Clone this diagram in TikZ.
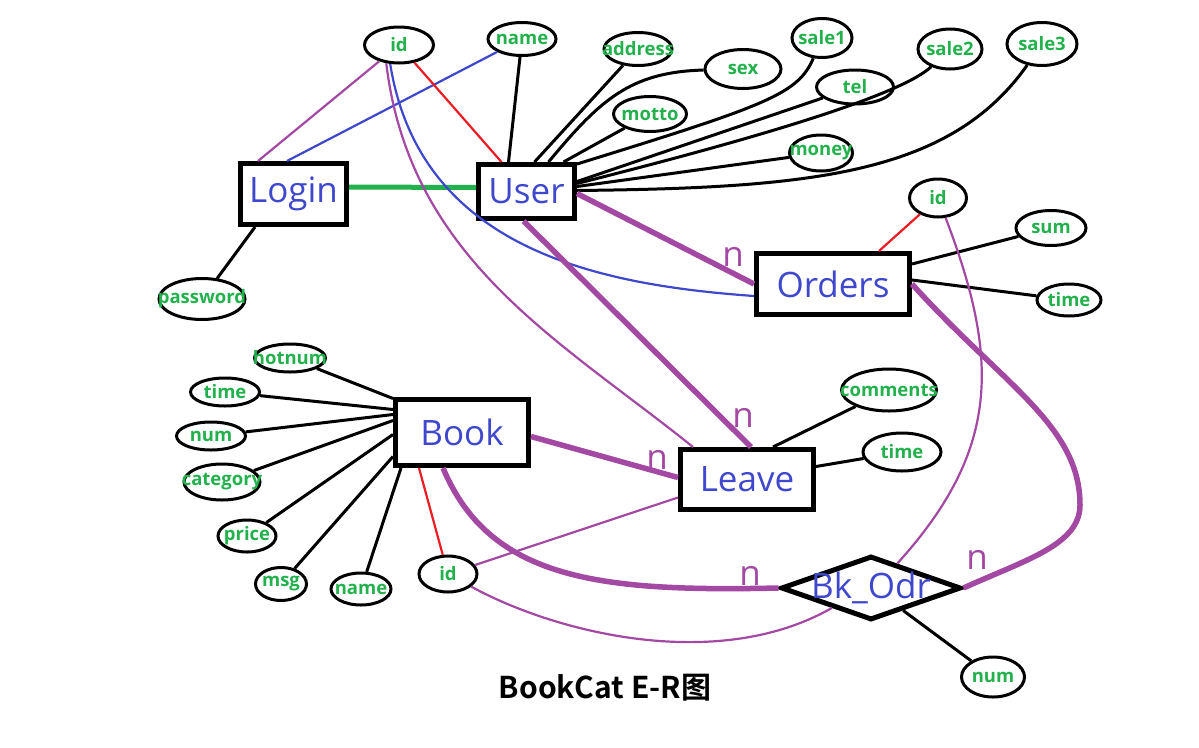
\documentclass[tikz,border=0pt]{standalone}
\usepackage{fontspec}
\usepackage{tikz}
\usetikzlibrary{shapes.geometric}
\newfontfamily\opensans{Open Sans}
\newfontfamily\cjkbold{Noto Sans CJK SC Bold}
\newcommand{\entfont}{\opensans\fontsize{35pt}{40pt}\selectfont}
\newcommand{\attrfont}{\opensans\bfseries\fontsize{18.5pt}{22pt}\selectfont}
\newcommand{\titlefont}{\cjkbold\fontsize{30pt}{34pt}\selectfont}
\definecolor{erblue}{HTML}{3F48CC}
\definecolor{ergreen}{HTML}{22B14C}
\definecolor{erpurple}{HTML}{A349A4}
\definecolor{erred}{HTML}{ED1C24}
\tikzstyle{entity} = [draw, line width=5pt, inner sep=0pt, text=erblue, font=\entfont]
\tikzstyle{attr} = [draw, ellipse, line width=3pt, inner xsep=-60pt, inner ysep=0pt, text=ergreen, font=\attrfont]
\tikzstyle{rel} = [draw, diamond, line width=5pt, inner sep=-60pt, text=erblue, font=\entfont]
\tikzstyle{card} = [text=erpurple, font=\entfont, inner sep=0pt]
\tikzstyle{attrline} = [line width=3pt]
\tikzstyle{keyline} = [line width=2.2pt]
\tikzstyle{relline} = [line width=5.5pt, erpurple]

\begin{document}
\begin{tikzpicture}[x=1pt, y=-1pt]
	\useasboundingbox (0,0) rectangle (1199,747);
	\fill[white] (0,0) rectangle (1199,747);

	\node[entity, minimum width=106pt, minimum height=61pt](login) at (293.5,194){Login};
	\node[entity, minimum width=96pt, minimum height=54pt](user) at (526.5,191.5){User};
	\node[entity, minimum width=153pt, minimum height=61pt](orders) at (833,284){Orders};
	\node[entity, minimum width=133pt, minimum height=66pt](book) at (462,432.5){Book};
	\node[entity, minimum width=133pt, minimum height=60pt](leave) at (747,479.5){Leave};
	\node[rel, minimum width=180pt, minimum height=64pt](bkodr) at (871,588){Bk\_Odr};

	\node[attr, minimum width=69pt, minimum height=36pt](uid) at (399,45){id};
	\node[attr, minimum width=68pt, minimum height=33pt](uname) at (522,39){name};
	\node[attr, minimum width=86pt, minimum height=41pt](pwd) at (202,299){password};
	\node[attr, minimum width=68pt, minimum height=33pt](address) at (638,49){address};
	\node[attr, minimum width=76pt, minimum height=39pt](sex) at (743,69){sex};
	\node[attr, minimum width=60pt, minimum height=39pt](sale1) at (822,38){sale1};
	\node[attr, minimum width=77pt, minimum height=34pt](tel) at (855,87){tel};
	\node[attr, minimum width=73pt, minimum height=35pt](motto) at (650,114){motto};
	\node[attr, minimum width=63pt, minimum height=36pt](money) at (821,153){money};
	\node[attr, minimum width=64pt, minimum height=40pt](sale2) at (950,49){sale2};
	\node[attr, minimum width=70pt, minimum height=43pt](sale3) at (1042,44){sale3};
	\node[attr, minimum width=57pt, minimum height=38pt](oid) at (938,198){id};
	\node[attr, minimum width=70pt, minimum height=35pt](sum) at (1051,228){sum};
	\node[attr, minimum width=64pt, minimum height=32pt](otime) at (1069,300){time};
	\node[attr, minimum width=71pt, minimum height=28pt](hotnum) at (290,358){hotnum};
	\node[attr, minimum width=69pt, minimum height=28pt](btime) at (225,392){time};
	\node[attr, minimum width=69pt, minimum height=28pt](bnum) at (211,436){num};
	\node[attr, minimum width=76pt, minimum height=36pt](category) at (222,482){category};
	\node[attr, minimum width=58pt, minimum height=32pt](price) at (247,536){price};
	\node[attr, minimum width=51pt, minimum height=33pt](msg) at (281,584){msg};
	\node[attr, minimum width=60pt, minimum height=32pt](bname) at (361,589){name};
	\node[attr, minimum width=58pt, minimum height=36pt](bid) at (448,574){id};
	\node[attr, minimum width=95pt, minimum height=42pt](comments) at (889,390){comments};
	\node[attr, minimum width=78pt, minimum height=38pt](ltime) at (902,452){time};
	\node[attr, minimum width=63pt, minimum height=40pt](knum) at (993,677){num};

	\node[card](n1) at (733,257){n};
	\node[card](n2) at (743,418){n};
	\node[card](n3) at (657,460){n};
	\node[card](n4) at (750,576){n};
	\node[card](n5) at (977,560){n};

	\node[font=\titlefont](title) at (605,688){BookCat E-R图};

	\draw[attrline](pwd) -- ([shift={(17,0)}]login.south west);
	\draw[keyline, erpurple](uid) -- ([shift={(20,0)}]login.north west);
	\draw[keyline, erblue](uname) -- ([shift={(49,0)}]login.north west);
	\draw[line width=5pt, ergreen]([shift={(0,-7)}]login.east) -- ([shift={(0,-4)}]user.west);

	\draw[keyline, erred](uid) -- ([shift={(-25,0)}]user.north);
	\draw[attrline](uname) -- ([shift={(-18,0)}]user.north);
	\draw[attrline](address) -- ([shift={(8,0)}]user.north);
	\draw[attrline](sex) .. controls (630,72) and (600,100) .. ([shift={(22,0)}]user.north);
	\draw[attrline](motto) -- ([shift={(37,0)}]user.north);
	\draw[attrline](sale1) .. controls (798,94) and (768,105) .. ([shift={(0,2)}]user.north east);
	\draw[attrline](tel) -- ([shift={(0,-10)}]user.east);
	\draw[attrline](sale2) .. controls (900,96) and (750,140) .. ([shift={(0,-8)}]user.east);
	\draw[attrline](money) -- ([shift={(0,-5)}]user.east);
	\draw[attrline](sale3) .. controls (950,175) and (810,188) .. ([shift={(0,-1)}]user.east);

	\draw[relline]([shift={(0,2)}]user.east) -- (orders.west);
	\draw[keyline, erblue](uid.245) .. controls (420,250) and (600,285) .. ([shift={(0,12)}]orders.west);
	\draw[keyline, erpurple](uid.235) .. controls (410,260) and (560,340) .. ([shift={(-54,0)}]leave.north);
	\draw[relline]([shift={(-3,0)}]user.south) -- ([shift={(4,0)}]leave.north);

	\draw[keyline, erred](oid) -- ([shift={(46,0)}]orders.north);
	\draw[attrline](sum) -- ([shift={(0,-20)}]orders.east);
	\draw[attrline](otime) -- ([shift={(0,-4)}]orders.east);
	\draw[keyline, erpurple](oid) .. controls (1000,360) and (1000,450) .. (bkodr.43);
	\draw[relline](orders.east) .. controls (1002,384) and (1080,425) .. (1080,505) .. controls (1080,545) and (1025,560) .. (bkodr.east);

	\draw[attrline](hotnum) -- ([shift={(0,-34)}]book.west);
	\draw[attrline](btime) -- ([shift={(0,-23)}]book.west);
	\draw[attrline](bnum) -- ([shift={(0,-18)}]book.west);
	\draw[attrline](category) -- ([shift={(0,-12)}]book.west);
	\draw[attrline](price) -- ([shift={(0,2)}]book.west);
	\draw[attrline](msg) -- ([shift={(0,24)}]book.west);
	\draw[attrline](bname) -- ([shift={(8,0)}]book.south west);
	\draw[keyline, erred](bid) -- ([shift={(26,0)}]book.south west);

	\draw[relline]([shift={(0,4)}]book.east) -- ([shift={(0,-2)}]leave.west);
	\draw[relline]([shift={(-19,0)}]book.south) .. controls (490,580) and (600,592) .. (bkodr.west);
	\draw[keyline, erpurple](bid) -- ([shift={(0,18)}]leave.west);
	\draw[keyline, erpurple](bid) .. controls (560,635) and (720,672) .. (bkodr.207);

	\draw[attrline](comments) -- ([shift={(26,0)}]leave.north);
	\draw[attrline](ltime) -- ([shift={(0,-13)}]leave.east);
	\draw[attrline](bkodr.-35) -- (knum);
\end{tikzpicture}
\end{document}
